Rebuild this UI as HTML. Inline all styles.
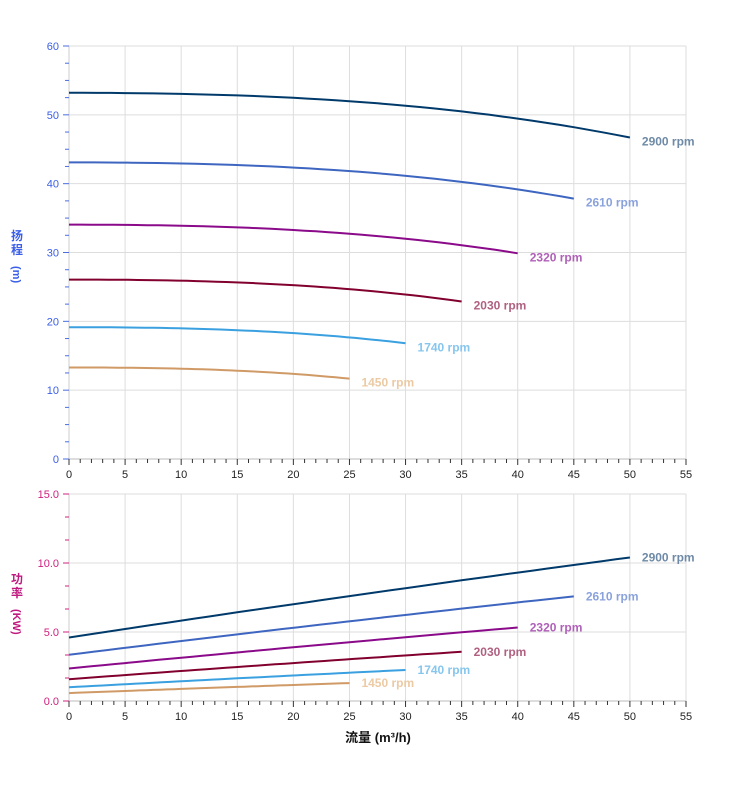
<!DOCTYPE html><html><head><meta charset="utf-8"><style>body{margin:0;background:#fff}svg{display:block;font-family:"Liberation Sans","Noto Sans CJK SC",sans-serif}</style></head><body>
<svg id="s" width="752" height="797" xmlns="http://www.w3.org/2000/svg"></svg>
<script>
const s=document.getElementById('s');let h='';
const X=q=>69+q*617/55, YT=v=>459-v*413/60, YB=v=>701-v*207/15;
for(let q=5;q<=55;q+=5){h+=`<line x1="${X(q)}" y1="46" x2="${X(q)}" y2="459" stroke="#ddd"/>`;h+=`<line x1="${X(q)}" y1="494" x2="${X(q)}" y2="701" stroke="#ddd"/>`;}
for(let v=10;v<=60;v+=10)h+=`<line x1="69" y1="${YT(v)}" x2="686" y2="${YT(v)}" stroke="#ddd"/>`;
for(let v=5;v<=15;v+=5)h+=`<line x1="69" y1="${YB(v)}" x2="686" y2="${YB(v)}" stroke="#ddd"/>`;
h+=`<line x1="69" y1="46" x2="69" y2="459" stroke="#ccc"/><line x1="69" y1="494" x2="69" y2="701" stroke="#ccc"/>`;
h+=`<line x1="69" y1="459" x2="686" y2="459" stroke="#bbb"/><line x1="69" y1="701" x2="686" y2="701" stroke="#bbb"/>`;
for(let v=0;v<=60;v+=2.5){const y=YT(v);const maj=v%10==0;h+=`<line x1="${maj?63:65}" y1="${y}" x2="69" y2="${y}" stroke="#4a6ee0"/>`;if(maj)h+=`<text x="59" y="${y+4}" font-size="11" fill="#3a5ee8" text-anchor="end">${v}</text>`;}
for(let i=0;i<=9;i++){const v=i*5/3;const y=YB(v);const maj=i%3==0;h+=`<line x1="${maj?63:65}" y1="${y}" x2="69" y2="${y}" stroke="#d02080"/>`;if(maj)h+=`<text x="59" y="${y+4}" font-size="11" fill="#d02080" text-anchor="end">${v.toFixed(1)}</text>`;}
for(let q=0;q<=55;q++){const maj=q%5==0;for(const b of[459,701])h+=`<line x1="${X(q)}" y1="${b}" x2="${X(q)}" y2="${b+(maj?6:4)}" stroke="#333"/>`;if(maj)for(const b of[474,716])h+=`<text x="${X(q)}" y="${b+4}" font-size="11" fill="#222" text-anchor="middle">${q}</text>`;}
const S=[[2900,'#003a6b','#6e8aa6'],[2610,'#3e66c0','#8aa2dc'],[2320,'#8a0a8a','#b060b8'],[2030,'#82002e','#b06080'],[1740,'#3aa0e0','#86c6ee'],[1450,'#d09a66','#eccaa4']];
const HF=u=>53.2-0.0013*u*u-0.000026*u*u*u, PF=u=>4.6+0.124*u-0.00016*u*u;
for(const [n,c,lc] of S){const r=n/2900;let pt='',pp='';const qm=50*r;
for(let i=0;i<=40;i++){const q=qm*i/40,u=q/r;const H=HF(u)*r*r;const P=PF(u)*r*r*r;pt+=`${X(q).toFixed(1)},${YT(H).toFixed(1)} `;pp+=`${X(q).toFixed(1)},${YB(P).toFixed(1)} `;}
h+=`<polyline points="${pt}" fill="none" stroke="${c}" stroke-width="2"/><polyline points="${pp}" fill="none" stroke="${c}" stroke-width="2"/>`;
const He=HF(50)*r*r,Pe=PF(50)*r*r*r;
h+=`<text x="${X(qm)+12}" y="${YT(He)+8}" font-size="12" font-weight="bold" fill="${lc}">${n} rpm</text>`;
h+=`<text x="${X(qm)+12}" y="${YB(Pe)+4}" font-size="12" font-weight="bold" fill="${lc}">${n} rpm</text>`;}
h+=`<text x="17" y="240" font-size="12" font-weight="bold" fill="#3a5ee8" text-anchor="middle">扬</text><text x="17" y="254" font-size="12" font-weight="bold" fill="#3a5ee8" text-anchor="middle">程</text><text transform="translate(13,266) rotate(90)" font-size="11" font-weight="bold" fill="#3a5ee8">(m)</text>`;
h+=`<text x="17" y="583" font-size="12" font-weight="bold" fill="#c01a80" text-anchor="middle">功</text><text x="17" y="597" font-size="12" font-weight="bold" fill="#c01a80" text-anchor="middle">率</text><text transform="translate(13,609) rotate(90)" font-size="11" font-weight="bold" fill="#c01a80">(KW)</text>`;
h+=`<text x="378" y="742" font-size="13" font-weight="bold" fill="#111" text-anchor="middle">流量 (m³/h)</text>`;
s.innerHTML=h;
</script></body></html>
